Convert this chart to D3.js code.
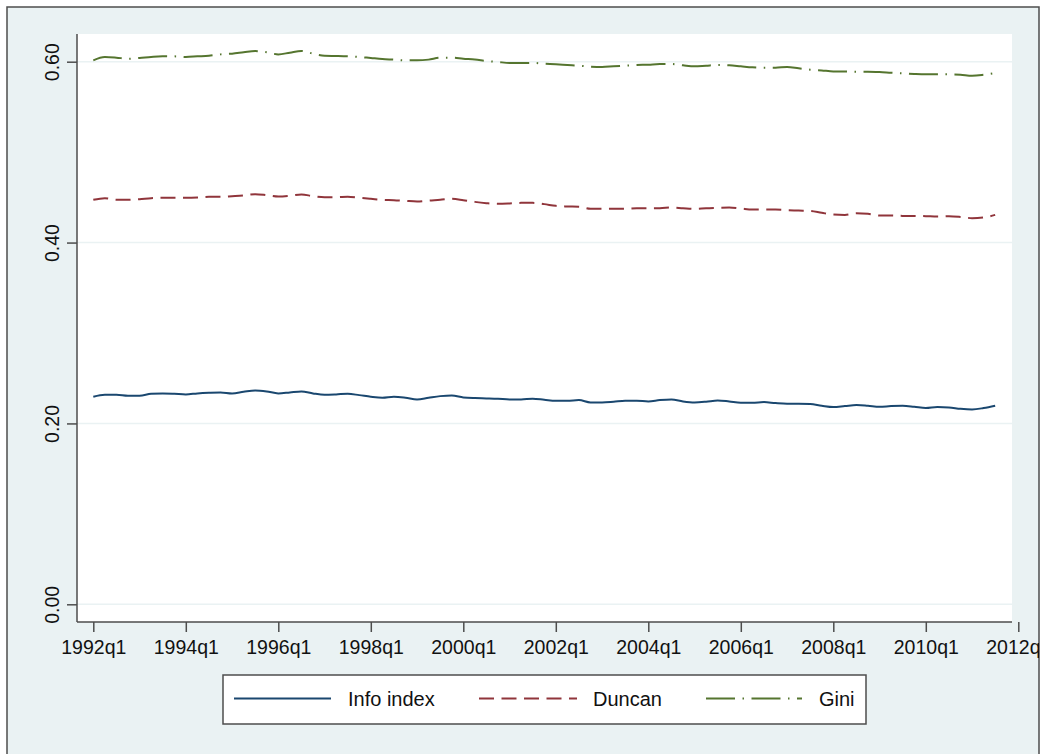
<!DOCTYPE html>
<html>
<head>
<meta charset="utf-8">
<script src="https://cdn.jsdelivr.net/npm/d3@7"></script>
<style>
  html, body { margin: 0; padding: 0; background: #ffffff; }
  svg { display: block; font-family: "Liberation Sans", Arial, Helvetica, sans-serif; }
</style>
</head>
<body>
<svg id="chart" width="1042" height="754"></svg>
<script>
// Quarterly segregation indices, 1992q1 - 2011q3
const startYear = 1992;
const quarters = d3.range(79).map(i => `${startYear + Math.floor(i / 4)}q${(i % 4) + 1}`);

const infoIndex = [
  .2295,.2317,.2317,.2306,.2306,.2328,.2332,.2328,.2321,.2332,
  .2339,.2343,.2332,.2350,.2365,.2354,.2332,.2343,.2354,.2332,
  .2317,.2321,.2328,.2313,.2295,.2284,.2295,.2284,.2265,.2284,
  .2302,.2310,.2288,.2280,.2277,.2273,.2265,.2265,.2273,.2262,
  .2251,.2251,.2258,.2232,.2232,.2240,.2251,.2251,.2243,.2258,
  .2265,.2243,.2232,.2240,.2254,.2243,.2229,.2229,.2236,.2225,
  .2218,.2218,.2214,.2195,.2181,.2192,.2203,.2195,.2184,.2192,
  .2195,.2184,.2170,.2181,.2177,.2162,.2155,.2170,.2195
];

const duncan = [
  .4473,.4491,.4473,.4473,.4480,.4491,.4495,.4495,.4495,.4498,
  .4506,.4506,.4513,.4521,.4535,.4524,.4509,.4517,.4532,.4513,
  .4502,.4502,.4506,.4495,.4484,.4473,.4469,.4461,.4454,.4465,
  .4473,.4484,.4469,.4450,.4436,.4428,.4432,.4439,.4439,.4425,
  .4406,.4399,.4395,.4373,.4373,.4373,.4373,.4380,.4380,.4380,
  .4388,.4380,.4373,.4380,.4384,.4388,.4377,.4365,.4365,.4365,
  .4358,.4354,.4351,.4329,.4310,.4306,.4325,.4318,.4299,.4299,
  .4295,.4295,.4292,.4288,.4292,.4284,.4270,.4277,.4306
];

const gini = [
  .6015,.6052,.6045,.6033,.6041,.6052,.6059,.6059,.6052,.6059,
  .6066,.6081,.6089,.6104,.6118,.6104,.6081,.6100,.6118,.6089,
  .6066,.6063,.6059,.6052,.6041,.6030,.6023,.6015,.6015,.6023,
  .6045,.6045,.6033,.6023,.6008,.5997,.5986,.5986,.5986,.5978,
  .5971,.5963,.5956,.5945,.5941,.5949,.5956,.5963,.5967,.5974,
  .5974,.5960,.5949,.5956,.5963,.5960,.5949,.5938,.5934,.5934,
  .5941,.5927,.5912,.5904,.5893,.5893,.5890,.5890,.5886,.5878,
  .5871,.5864,.5860,.5860,.5860,.5856,.5845,.5856,.5875
];

const yTicks = [0, 0.2, 0.4, 0.6];
const xTickLabels = ["1992q1","1994q1","1996q1","1998q1","2000q1","2002q1",
                     "2004q1","2006q1","2008q1","2010q1","2012q1"];

const seriesNames = ["Info index", "Duncan", "Gini"];

// ---- styling ----
const colors = { "Info index": "#1a476f", "Duncan": "#90353b", "Gini": "#55752f" };
const dashes = { "Info index": null, "Duncan": "15,7.5", "Gini": "29,7.5,1.5,7.5" };
const bg = "#eaf2f3";
const axisColor = "#4d4d4d";

const svg = d3.select("#chart");

svg.append("defs").append("clipPath").attr("id", "frameClip")
  .append("rect").attr("x", 7).attr("y", 7).attr("width", 1032).attr("height", 760);

// outer graph region
svg.append("rect")
  .attr("x", 7).attr("y", 7).attr("width", 1032).attr("height", 760)
  .attr("fill", bg).attr("stroke", axisColor).attr("stroke-width", 1.5);

const root = svg.append("g").attr("clip-path", "url(#frameClip)");

const plot = { left: 77, right: 1012, top: 34, bottom: 622 };

// quarter index -> x
const qIndex = label => (+label.slice(0, 4) - startYear) * 4 + (+label.slice(5) - 1);
const x = d3.scaleLinear().domain([0, 80]).range([93.3, 1018.3]);
const y = d3.scaleLinear().domain([0, 0.6]).range([604.3, 61.7]);

// plot region
root.append("rect")
  .attr("x", plot.left).attr("y", plot.top)
  .attr("width", plot.right - plot.left).attr("height", plot.bottom - plot.top)
  .attr("fill", "#ffffff");

// horizontal grid
root.append("g").selectAll("line").data(yTicks).join("line")
  .attr("x1", plot.left).attr("x2", plot.right)
  .attr("y1", d => y(d)).attr("y2", d => y(d))
  .attr("stroke", bg).attr("stroke-width", 1.5);

// series lines
const series = [
  { name: "Info index", values: infoIndex },
  { name: "Duncan", values: duncan },
  { name: "Gini", values: gini }
];

const line = d3.line()
  .x((d, i) => x(qIndex(quarters[i])))
  .y(d => y(d))
  .curve(d3.curveMonotoneX);

root.append("g").selectAll("path").data(series).join("path")
  .attr("d", s => line(s.values))
  .attr("fill", "none")
  .attr("stroke", s => colors[s.name])
  .attr("stroke-width", 2)
  .attr("stroke-dasharray", s => dashes[s.name])
  .attr("stroke-linejoin", "round");

// y axis
const yAxis = d3.axisLeft(y).tickValues(yTicks).tickFormat(d3.format(".2f")).tickSize(10).tickPadding(8);
const gy = root.append("g").attr("transform", `translate(${plot.left},0)`).call(yAxis);
gy.select(".domain").remove();
gy.append("line").attr("x1", 0).attr("x2", 0).attr("y1", plot.top).attr("y2", plot.bottom)
  .attr("stroke", axisColor).attr("stroke-width", 1.5);
gy.selectAll(".tick line").attr("stroke", axisColor).attr("stroke-width", 1.5);
gy.selectAll(".tick text")
  .attr("fill", "#111").attr("font-size", 19.5)
  .attr("text-anchor", "middle").attr("dy", null)
  .attr("x", null)
  .attr("transform", "translate(-18,0) rotate(-90)");

// x axis
const xAxis = d3.axisBottom(x)
  .tickValues(xTickLabels.map(qIndex))
  .tickFormat((d, i) => xTickLabels[i])
  .tickSize(10).tickPadding(8);
const gx = root.append("g").attr("transform", `translate(0,${plot.bottom})`).call(xAxis);
gx.select(".domain").remove();
gx.append("line").attr("x1", plot.left).attr("x2", plot.right).attr("y1", 0).attr("y2", 0)
  .attr("stroke", axisColor).attr("stroke-width", 1.5);
gx.selectAll(".tick line").attr("stroke", axisColor).attr("stroke-width", 1.5);
gx.selectAll(".tick text").attr("fill", "#111").attr("font-size", 19.5)
  .attr("dy", null).attr("y", 32);

// legend
const legend = root.append("g");
legend.append("rect")
  .attr("x", 223).attr("y", 675).attr("width", 643).attr("height", 49)
  .attr("fill", "#ffffff").attr("stroke", axisColor).attr("stroke-width", 1.5);

const legendItems = [
  { name: seriesNames[0], x1: 234, x2: 331, tx: 348 },
  { name: seriesNames[1], x1: 479, x2: 577, tx: 593 },
  { name: seriesNames[2], x1: 706, x2: 802, tx: 819 }
];
const li = legend.selectAll("g.item").data(legendItems).join("g").attr("class", "item");
li.append("line")
  .attr("x1", d => d.x1).attr("x2", d => d.x2)
  .attr("y1", 698.5).attr("y2", 698.5)
  .attr("stroke", d => colors[d.name]).attr("stroke-width", 2)
  .attr("stroke-dasharray", d => dashes[d.name]);
li.append("text")
  .attr("x", d => d.tx).attr("y", 706)
  .attr("font-size", 20).attr("fill", "#111")
  .text(d => d.name);
</script>
</body>
</html>
